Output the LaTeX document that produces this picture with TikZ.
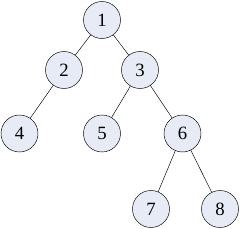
\documentclass[tikz,border=0pt]{standalone}
\usepackage{fontspec}
\setmainfont{Liberation Serif}
\definecolor{nodefill}{RGB}{230,235,245}
\begin{document}
\begin{tikzpicture}[x=0.03cm,y=-0.03cm,
  treenode/.style={draw, circle, fill=nodefill, minimum size=1.11cm, inner sep=0pt, font=\fontsize{16}{18}\selectfont}]
\useasboundingbox (0,0) rectangle (240,229);
\node[treenode] (n1) at (102,20) {1};
\node[treenode] (n2) at (64,70) {2};
\node[treenode] (n3) at (140,70) {3};
\node[treenode] (n4) at (19.5,133.5) {4};
\node[treenode] (n5) at (102,133.5) {5};
\node[treenode] (n6) at (182.5,133.5) {6};
\node[treenode] (n7) at (151,209) {7};
\node[treenode] (n8) at (220,209) {8};

\draw (n1) -- (n2);
\draw (n1) -- (n3);
\draw (n2) -- (n4);
\draw (n3) -- (n5);
\draw (n3) -- (n6);
\draw (n6) -- (n7);
\draw (n6) -- (n8);
\end{tikzpicture}
\end{document}
